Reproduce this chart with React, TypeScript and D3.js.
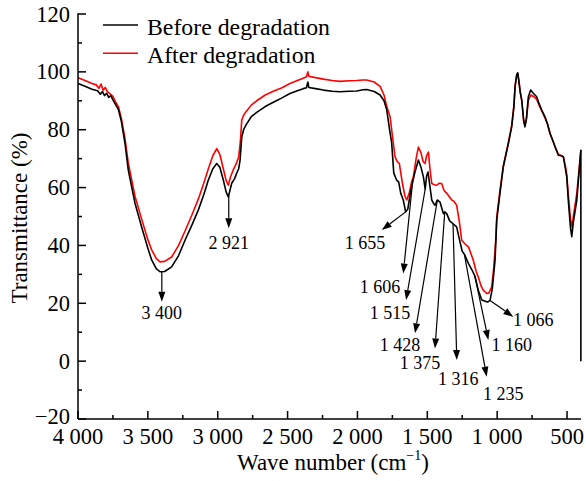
import React from "react";
import * as d3 from "d3";

// [wavenumber (cm-1), transmittance (%)]
const beforeSeries: [number, number][] = [
  [4000, 96], [3950, 95], [3900, 94], [3860, 93.5], [3840, 92.3], [3825, 93.2], [3810, 91.8], [3795, 92.6],
  [3780, 91.2], [3765, 91.8], [3750, 90.3], [3730, 88.6], [3711, 87], [3690, 83], [3664, 75.4], [3640, 66],
  [3615, 60], [3592, 54.6], [3544, 46.3], [3500, 39], [3473, 35], [3440, 32], [3413, 30.9], [3380, 31],
  [3330, 32.6], [3280, 36.5], [3234, 41.8], [3185, 47], [3139, 52.2], [3100, 57.5], [3067, 62.6], [3035, 66.5],
  [3007, 68.3], [2985, 67], [2960, 62.6], [2940, 58.5], [2924, 56.8], [2910, 59.5], [2900, 61.5], [2880, 63],
  [2864, 65], [2850, 66.5], [2840, 69.5], [2828, 77.4], [2815, 80], [2793, 82], [2760, 84.5], [2721, 86],
  [2660, 88], [2602, 89.5], [2540, 91], [2483, 92.5], [2430, 93.5], [2388, 94.2], [2365, 94.5], [2355, 96.5],
  [2348, 94.6], [2300, 94.2], [2244, 93.7], [2180, 93.3], [2125, 93.1], [2060, 93.3], [2005, 93.4], [1960, 93.8],
  [1934, 93.9], [1880, 93.2], [1838, 92], [1810, 90], [1790, 86.8], [1770, 80], [1755, 75.4], [1740, 65],
  [1720, 62.6], [1705, 62], [1690, 58], [1672, 55.7], [1655, 51.6], [1640, 52.5], [1625, 57], [1612, 60.3],
  [1590, 65], [1564, 69.5], [1545, 67], [1528, 63.7], [1515, 59.5], [1505, 64], [1495, 65.4], [1480, 60],
  [1468, 55.7], [1455, 54.5], [1445, 53.9], [1428, 55.7], [1409, 55], [1385, 51], [1375, 51.6], [1361, 51],
  [1340, 48.5], [1316, 47.5], [1290, 46.4], [1270, 42], [1250, 38], [1235, 37], [1206, 33.8], [1180, 31.5],
  [1160, 29.5], [1135, 24.5], [1110, 21.1], [1075, 20.5], [1066, 20.5], [1051, 21], [1035, 25], [1015, 35],
  [1003, 48.7], [980, 58], [956, 67.2], [920, 75.2], [896, 81], [880, 88], [872, 94.8], [860, 99],
  [853, 99.7], [845, 97], [835, 93], [824, 90.2], [810, 83], [801, 81], [790, 84], [777, 91.4],
  [760, 93.7], [740, 92.5], [717, 91.4], [700, 89], [681, 86.8], [657, 84.4], [640, 82], [621, 78.7],
  [600, 76], [585, 74], [562, 71.2], [540, 71], [526, 70.6], [510, 66], [502, 63.7], [490, 55],
  [475, 46], [466, 43], [455, 48], [430, 55.7], [401, 72.9], [401, 0],
];

const afterSeries: [number, number][] = [
  [4000, 98], [3950, 97], [3900, 96], [3870, 95.5], [3850, 94.3], [3835, 95.8], [3820, 93.6], [3805, 94.6],
  [3790, 93.2], [3770, 92.4], [3750, 91.5], [3730, 89.5], [3711, 88], [3690, 84], [3664, 77], [3640, 68.5],
  [3615, 62.5], [3592, 57], [3544, 49], [3500, 42], [3473, 38.5], [3440, 35.5], [3413, 34.3], [3380, 34.5],
  [3330, 36], [3280, 40], [3234, 45], [3185, 50.5], [3139, 56], [3100, 61.5], [3067, 66.5], [3035, 71],
  [3007, 73.5], [2985, 71.5], [2960, 66.5], [2940, 62.5], [2924, 60.8], [2910, 63.5], [2890, 66], [2870, 68],
  [2850, 70.6], [2838, 76], [2828, 83.3], [2815, 85], [2793, 86.5], [2760, 88.5], [2721, 90], [2660, 92],
  [2602, 93.3], [2540, 94.5], [2483, 96], [2430, 97], [2388, 97.8], [2365, 98.3], [2355, 100], [2348, 98.5],
  [2300, 98], [2244, 97.5], [2180, 97], [2125, 96.7], [2060, 96.9], [2005, 97], [1960, 97.2], [1934, 97.2],
  [1880, 96.5], [1838, 95], [1810, 92], [1790, 88], [1766, 84.4], [1750, 78], [1731, 70.6], [1715, 69],
  [1700, 68.3], [1680, 62], [1660, 57], [1647, 55.7], [1630, 58], [1612, 62], [1600, 63.7], [1580, 70],
  [1564, 74], [1545, 72], [1530, 69], [1516, 68.3], [1505, 71], [1492, 72.3], [1480, 66], [1468, 61.4],
  [1450, 61], [1432, 60.8], [1415, 61.5], [1397, 61.4], [1380, 59], [1361, 58], [1345, 57], [1325, 55.7],
  [1310, 55.3], [1290, 53.9], [1270, 48], [1254, 41.8], [1230, 40.5], [1206, 39.5], [1190, 37.5], [1171, 34.9],
  [1150, 31], [1135, 29.1], [1115, 26], [1099, 24.5], [1075, 23.4], [1060, 23.5], [1039, 25.7], [1025, 32],
  [1010, 42], [1003, 50], [980, 59], [956, 67.5], [920, 75.5], [896, 81.5], [880, 88.5], [872, 95],
  [860, 99], [853, 99.5], [845, 97], [835, 93], [824, 90], [810, 83], [801, 81.5], [790, 84],
  [777, 90], [760, 92], [740, 91.5], [717, 90.5], [700, 88.5], [681, 86.5], [657, 84], [640, 82],
  [621, 78.5], [600, 76], [585, 74], [562, 71.5], [540, 71], [526, 70.6], [510, 67], [502, 64.5],
  [490, 57], [475, 49], [466, 46.5], [455, 50], [430, 58], [401, 73],
];

const seriesNames = ["Before degradation", "After degradation"];
const seriesColors = ["#000000", "#ff0000"];

const xMajorTicks = [4000, 3500, 3000, 2500, 2000, 1500, 1000, 500];
const xTickLabels = ["4 000", "3 500", "3 000", "2 500", "2 000", "1 500", "1 000", "500"];
const xMinorTicks = [3750, 3250, 2750, 2250, 1750, 1250, 750];
const yMajorTicks = [-20, 0, 20, 40, 60, 80, 100, 120];
const yTickLabels = ["\u221220", "0", "20", "40", "60", "80", "100", "120"];
const yMinorTicks = [-10, 10, 30, 50, 70, 90, 110];

// peak annotations: label, peak wavenumber, arrow tip and label centre (data units)
const peakLabels = ["3 400", "2 921", "1 655", "1 606", "1 515", "1 428", "1 375", "1 316", "1 235", "1 160", "1 066"];
const peakWaves = [3400, 2921, 1655, 1606, 1515, 1428, 1375, 1316, 1235, 1160, 1051];
const tipWaves = [3400, 2921, 1826, 1672, 1652, 1588, 1445, 1289, 1075, 1063, 884];
const tipValues = [20.5, 45.9, 45.3, 30.3, 21.1, 9.6, 4.4, 0.4, -5.4, 7.3, 15.3];
const labelWaves = [3400, 2921, 1946, 1838, 1767, 1695, 1552, 1278, 956, 896, 741];
const labelValues = [16.6, 40.7, 40.7, 25.7, 16.5, 5.5, -0.8, -6, -11.2, 5.5, 14.2];

const W = 586;
const H = 481;
const FONT = '"Liberation Serif", "Times New Roman", Times, serif';

function valueAt(series: [number, number][], w: number): number {
  for (let i = 0; i < series.length - 1; i++) {
    const [w0, v0] = series[i];
    const [w1, v1] = series[i + 1];
    if (w <= w0 && w >= w1 && w0 !== w1) {
      return v0 + ((w - w0) / (w1 - w0)) * (v1 - v0);
    }
  }
  return series[series.length - 1][1];
}

export default function App() {
  const x = d3.scaleLinear().domain([4000, 400]).range([78, 581]);
  const y = d3.scaleLinear().domain([-20, 120]).range([419, 14]);
  const line = d3
    .line<[number, number]>()
    .x((d) => x(d[0]))
    .y((d) => y(d[1]))
    .curve(d3.curveLinear);

  const series = [beforeSeries, afterSeries];

  const arrows = peakLabels.map((label, i) => {
    const sx = x(peakWaves[i]);
    const sy = y(valueAt(beforeSeries, peakWaves[i]));
    const tx = x(tipWaves[i]);
    const ty = y(tipValues[i]);
    const dx = tx - sx;
    const dy = ty - sy;
    const len = Math.sqrt(dx * dx + dy * dy);
    const ux = dx / len;
    const uy = dy / len;
    const headL = 10;
    const headW = 3.5;
    const bx = tx - ux * headL;
    const by = ty - uy * headL;
    const head = `M${tx},${ty}L${bx - uy * headW},${by + ux * headW}L${bx + uy * headW},${by - ux * headW}Z`;
    return { label, sx, sy, bx, by, head, lx: x(labelWaves[i]), ly: y(labelValues[i]) };
  });

  return (
    <svg
      width={W}
      height={H}
      viewBox={`0 0 ${W} ${H}`}
      style={{ position: "absolute", left: 0, top: 0, background: "#fff", display: "block" }}
      fontFamily={FONT}
    >
      <rect x={0} y={0} width={W} height={H} fill="#fff" />

      {/* curves: draw after first, then before on top */}
      {[1, 0].map((i) => (
        <path
          key={i}
          d={line(series[i]) || ""}
          fill="none"
          stroke={seriesColors[i]}
          strokeWidth={1.6}
          strokeLinejoin="round"
        />
      ))}

      {/* axes */}
      <g stroke="#000" strokeWidth={1.5}>
        <line x1={x(4000)} y1={y(120) - 0.75} x2={x(4000)} y2={y(-20)} />
        <line x1={x(4000)} y1={y(-20)} x2={x(400)} y2={y(-20)} />
        {xMajorTicks.map((t) => (
          <line key={"xM" + t} x1={x(t)} x2={x(t)} y1={y(-20)} y2={y(-20) - 8} />
        ))}
        {xMinorTicks.map((t) => (
          <line key={"xm" + t} x1={x(t)} x2={x(t)} y1={y(-20)} y2={y(-20) - 4} />
        ))}
        {yMajorTicks.map((t) => (
          <line key={"yM" + t} x1={x(4000)} x2={x(4000) + 8} y1={y(t)} y2={y(t)} />
        ))}
        {yMinorTicks.map((t) => (
          <line key={"ym" + t} x1={x(4000)} x2={x(4000) + 4} y1={y(t)} y2={y(t)} />
        ))}
      </g>

      <g fontSize={22.5} fill="#000">
        {xMajorTicks.map((t, i) => (
          <text key={"xl" + t} x={x(t)} y={444} textAnchor="middle">
            {xTickLabels[i]}
          </text>
        ))}
        {yMajorTicks.map((t, i) => (
          <text key={"yl" + t} x={70} y={y(t) + (t === -20 ? 4.5 : 7.5)} textAnchor="end">
            {yTickLabels[i]}
          </text>
        ))}
      </g>

      {/* axis titles */}
      <text x={333} y={470} textAnchor="middle" fontSize={23} fill="#000">
        Wave number (cm
        <tspan fontSize={14} dy={-10}>{"\u22121"}</tspan>
        <tspan dy={10}>)</tspan>
      </text>
      <text transform="translate(27,218) rotate(-90)" textAnchor="middle" fontSize={23} fill="#000">
        Transmittance (%)
      </text>

      {/* legend */}
      {seriesNames.map((name, i) => (
        <g key={name}>
          <line x1={103} x2={138} y1={25 + i * 28.3} y2={25 + i * 28.3} stroke={seriesColors[i]} strokeWidth={1.6} />
          <text x={147} y={34.5 + i * 28.3} fontSize={23.8} fill="#000">
            {name}
          </text>
        </g>
      ))}

      {/* annotations */}
      <g>
        {arrows.map((a) => (
          <g key={a.label}>
            <line x1={a.sx} y1={a.sy} x2={a.bx} y2={a.by} stroke="#000" strokeWidth={1.2} />
            <path d={a.head} fill="#000" />
            <text x={a.lx} y={a.ly + 6} textAnchor="middle" fontSize={18} fill="#000">
              {a.label}
            </text>
          </g>
        ))}
      </g>
    </svg>
  );
}
